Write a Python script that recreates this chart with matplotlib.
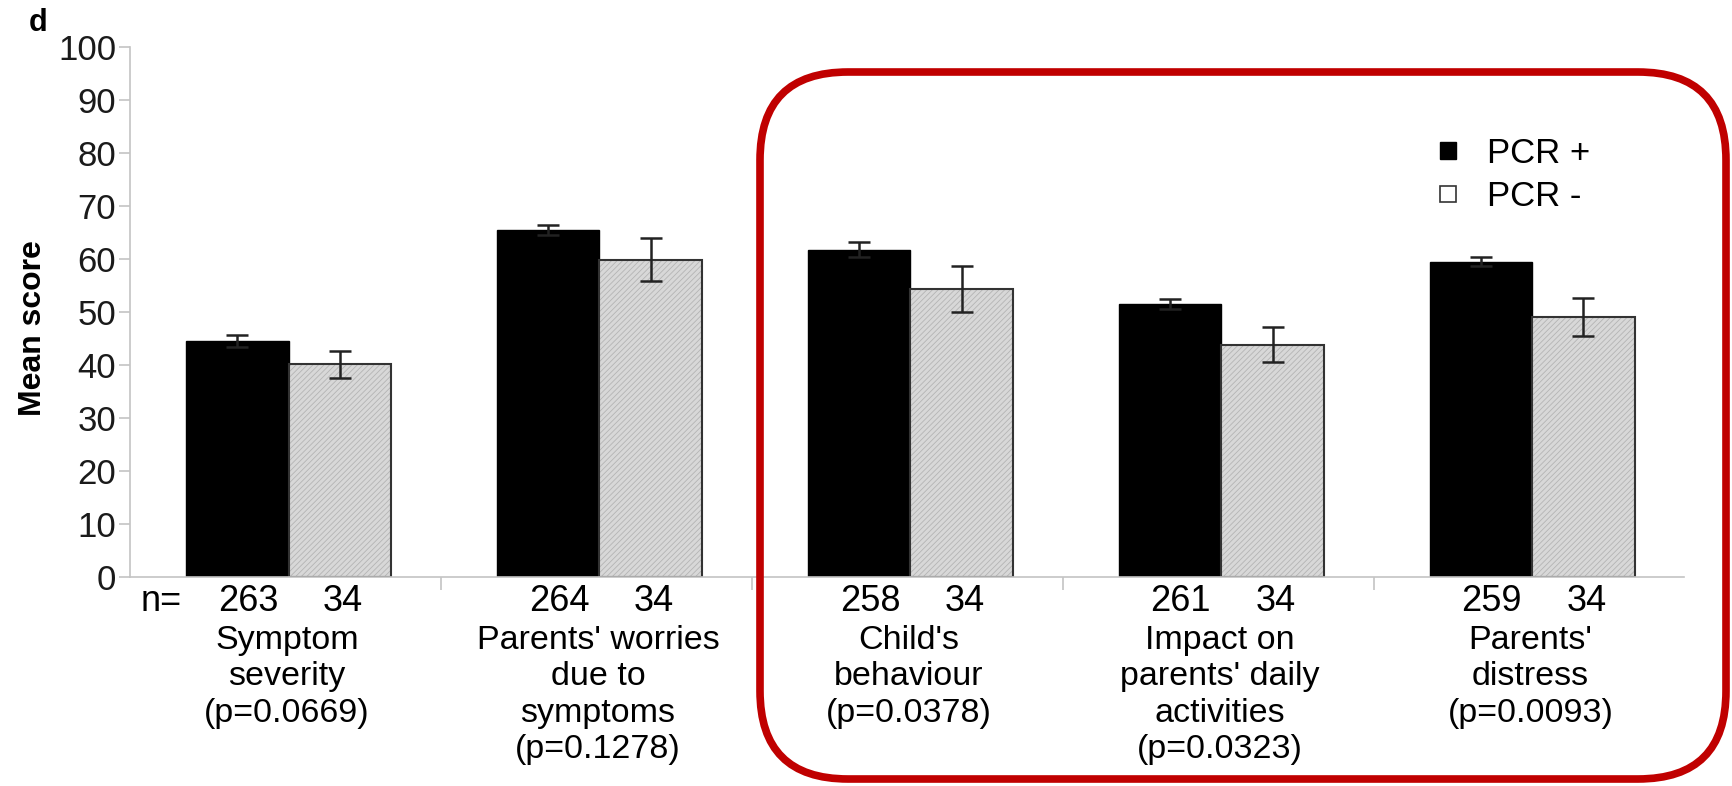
import matplotlib
matplotlib.use("Agg")
import matplotlib.pyplot as plt
from matplotlib.patches import FancyBboxPatch, Patch
from matplotlib.transforms import IdentityTransform
import numpy as np

# values
categories = ["Symptom\nseverity\n(p=0.0669)",
              "Parents' worries\ndue to\nsymptoms\n(p=0.1278)",
              "Child's\nbehaviour\n(p=0.0378)",
              "Impact on\nparents' daily\nactivities\n(p=0.0323)",
              "Parents'\ndistress\n(p=0.0093)"]
pcr_pos = [44.5, 65.5, 61.8, 51.5, 59.5]
pcr_pos_err = [1.1, 1.0, 1.4, 1.0, 0.8]
pcr_neg = [40.1, 59.9, 54.4, 43.8, 49.0]
pcr_neg_err = [2.6, 4.0, 4.3, 3.3, 3.6]
n_pos = [263, 264, 258, 261, 259]
n_neg = [34, 34, 34, 34, 34]

plt.rcParams['font.family'] = ['Liberation Sans', 'DejaVu Sans']
plt.rcParams['hatch.linewidth'] = 0.6

fig = plt.figure(figsize=(17.33, 7.86), dpi=100)
ax = fig.add_axes([0.075, 0.266, 0.897, 0.674])

x = np.arange(len(categories))
w = 0.33
ax.bar(x - w/2 + 0.01, pcr_pos, w, color='black', edgecolor='black', linewidth=1)
ax.bar(x + w/2 + 0.01, pcr_neg, w, color='#d8d8d8', edgecolor='#b4b4b4',
       hatch='//////', linewidth=0)
ax.bar(x + w/2 + 0.01, pcr_neg, w, fill=False, edgecolor='#333333', linewidth=1.5)
ax.errorbar(x - w/2 + 0.01, pcr_pos, yerr=pcr_pos_err, fmt='none', ecolor='#222222',
            elinewidth=1.8, capsize=8, capthick=1.8)
ax.errorbar(x + w/2 + 0.01, pcr_neg, yerr=pcr_neg_err, fmt='none', ecolor='#222222',
            elinewidth=1.8, capsize=8, capthick=1.8)

ax.set_xlim(-0.5, len(categories) - 0.5)
ax.set_ylim(0, 100)
ax.set_yticks(np.arange(0, 101, 10))
ax.set_xticks(np.arange(0.5, len(categories) - 0.5, 1))
ax.set_xticklabels([])
for s in ['top', 'right']:
    ax.spines[s].set_visible(False)
for s in ['left', 'bottom']:
    ax.spines[s].set_color('#c4c4c4')
    ax.spines[s].set_linewidth(1.2)
ax.tick_params(axis='y', length=8, width=1.2, color='#c4c4c4', labelsize=25,
               pad=2, labelcolor='#1a1a1a')
ax.tick_params(axis='x', length=9, width=1.2, color='#c4c4c4')

tr = ax.get_xaxis_transform()
ax.text(-0.40, -0.047, "n=", transform=tr, ha='center', va='center', fontsize=26)
for i in range(len(categories)):
    ax.text(i - 0.12, -0.047, str(n_pos[i]), transform=tr, ha='center', va='center', fontsize=26)
    ax.text(i + 0.185, -0.047, str(n_neg[i]), transform=tr, ha='center', va='center', fontsize=26)
    ax.text(i + 0.005, -0.091, categories[i], transform=tr, ha='center', va='top',
            fontsize=24.5, linespacing=1.22)

fig.text(38/1733, 1 - 23/786, "d", fontsize=22, fontweight='bold', ha='center', va='center')
fig.text(33/1733, 1 - 328/786, "Mean score", fontsize=23, fontweight='bold',
         rotation=90, ha='center', va='center')

handles = [Patch(facecolor='black', edgecolor='black'),
           Patch(facecolor='white', edgecolor='#333333', linewidth=1.2)]
fig.legend(handles, ["PCR +", "PCR -"], loc='upper left',
           bbox_to_anchor=(1440/1733, 1 - 137/786), frameon=False, fontsize=25,
           handlelength=0.45, handleheight=0.35, handletextpad=0.9,
           borderpad=0, borderaxespad=0, labelspacing=0.3)

box = FancyBboxPatch((760, 7), 966, 707, boxstyle="round,pad=0,rounding_size=88",
                     transform=IdentityTransform(), fill=False,
                     edgecolor='#c00000', linewidth=5.5, zorder=5)
fig.add_artist(box)

fig.savefig("out.png", dpi=100)
